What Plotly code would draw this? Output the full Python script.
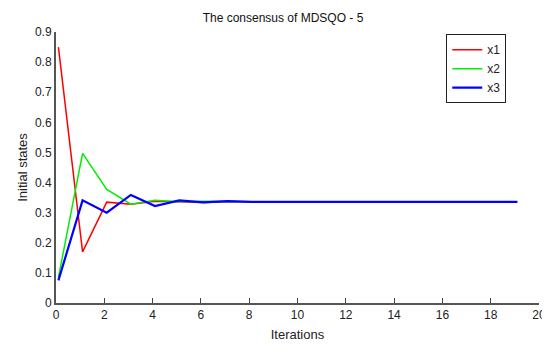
import plotly.graph_objects as go

iterations = [0.1 + k for k in range(20)]
x1 = [0.85, 0.17, 0.335, 0.328, 0.338, 0.335, 0.334, 0.336, 0.336, 0.336,
      0.336, 0.336, 0.336, 0.336, 0.336, 0.336, 0.336, 0.336, 0.336, 0.336]
x2 = [0.085, 0.497, 0.377, 0.328, 0.341, 0.336, 0.338, 0.336, 0.336, 0.336,
      0.336, 0.336, 0.336, 0.336, 0.336, 0.336, 0.336, 0.336, 0.336, 0.336]
x3 = [0.075, 0.341, 0.300, 0.359, 0.322, 0.341, 0.334, 0.338, 0.336, 0.336,
      0.336, 0.336, 0.336, 0.336, 0.336, 0.336, 0.336, 0.336, 0.336, 0.336]
series = [("x1", x1, "#ff0000", 1.5), ("x2", x2, "#00ee00", 1.5), ("x3", x3, "#0000ff", 2.2)]
x_ticks = list(range(0, 21, 2))
y_ticks = [round(0.1 * i, 1) for i in range(10)]
y_labels = ["0"] + [f"{v:g}" for v in y_ticks[1:]]

font = "Liberation Sans Narrow, Liberation Sans, Arial, sans-serif"
fig = go.Figure()
for name, vals, col, w in series:
    fig.add_trace(go.Scatter(x=iterations, y=vals, mode="lines", name=name,
                             line=dict(color=col, width=w)))

fig.update_layout(
    width=550, height=344,
    margin=dict(l=48, r=13, t=24, b=48),
    paper_bgcolor="white", plot_bgcolor="white",
    font=dict(family=font, size=12, color="#222"),
    title=dict(text="The consensus of MDSQO - 5", x=0.5, xanchor="center",
               y=1 - 10 / 344, yanchor="middle", font=dict(size=12, family=font, color="#111")),
    xaxis=dict(range=[0, 20], tickvals=x_ticks, ticks="inside", ticklen=5, tickcolor="#444",
               showline=True, linecolor="#555", linewidth=2, showgrid=False, zeroline=False,
               title=dict(text="Iterations", standoff=8, font=dict(size=13)),
               tickfont=dict(size=12)),
    yaxis=dict(range=[0, 0.9], tickvals=y_ticks, ticktext=y_labels, ticks="",
               showline=True, linecolor="#555", linewidth=2, showgrid=False, zeroline=False,
               title=dict(text="Initial states", standoff=4, font=dict(size=13)),
               tickfont=dict(size=12)),
    legend=dict(x=0.808, y=0.992, xanchor="left", yanchor="top",
                bordercolor="#222", borderwidth=1, bgcolor="white",
                font=dict(size=12, family=font), tracegroupgap=0, itemwidth=30),
)
fig.write_html("out.html")
